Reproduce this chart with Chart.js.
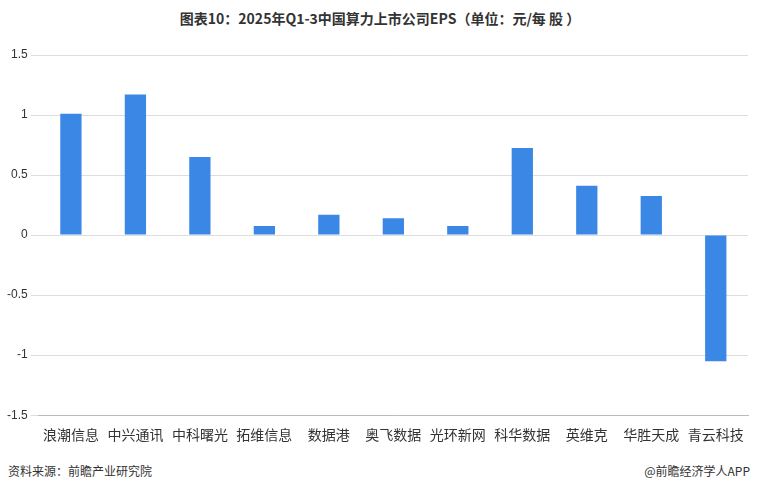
<!DOCTYPE html>
<html><head><meta charset="utf-8">
<script src="https://cdn.jsdelivr.net/npm/chart.js@4"></script>
<style>body{margin:0;background:#fff;font-family:"Noto Sans CJK SC",sans-serif}
#t{position:absolute;top:8px;left:0;width:760px;text-align:center;font-size:14px;font-weight:bold;color:#333}
#wrap{position:absolute;left:0;top:40px;width:760px;height:406px}
#s{position:absolute;left:8px;top:462px;font-size:12px;color:#333}
#r{position:absolute;right:10px;top:462px;font-size:12px;color:#333}
</style></head><body>
<div id="t">图表10：2025年Q1-3中国算力上市公司EPS（单位：元/每 股 ）</div>
<div id="wrap"><canvas id="c"></canvas></div>
<div id="s">资料来源：前瞻产业研究院</div><div id="r">@前瞻经济学人APP</div>
<script>
const categories=["浪潮信息","中兴通讯","中科曙光","拓维信息","数据港","奥飞数据","光环新网","科华数据","英维克","华胜天成","青云科技"];
const eps=[1.01,1.17,0.65,0.075,0.17,0.14,0.075,0.725,0.41,0.325,-1.05];
new Chart(document.getElementById('c'),{type:'bar',
data:{labels:categories,datasets:[{data:eps,backgroundColor:'#3a87e6',barPercentage:0.33,categoryPercentage:1}]},
options:{responsive:true,maintainAspectRatio:false,animation:false,
layout:{padding:{left:4,right:12,top:15,bottom:0}},
plugins:{legend:{display:false},tooltip:{enabled:false}},
scales:{x:{grid:{display:false},border:{color:'#bbb'},ticks:{color:'#333',font:{size:14,family:'Noto Sans CJK SC'},maxRotation:0,autoSkip:false}},
y:{min:-1.5,max:1.5,ticks:{stepSize:0.5,color:'#333',font:{size:12},callback:v=>String(Math.round(v*10)/10)},grid:{color:'#ddd'},border:{display:false}}}}});
</script></body></html>
